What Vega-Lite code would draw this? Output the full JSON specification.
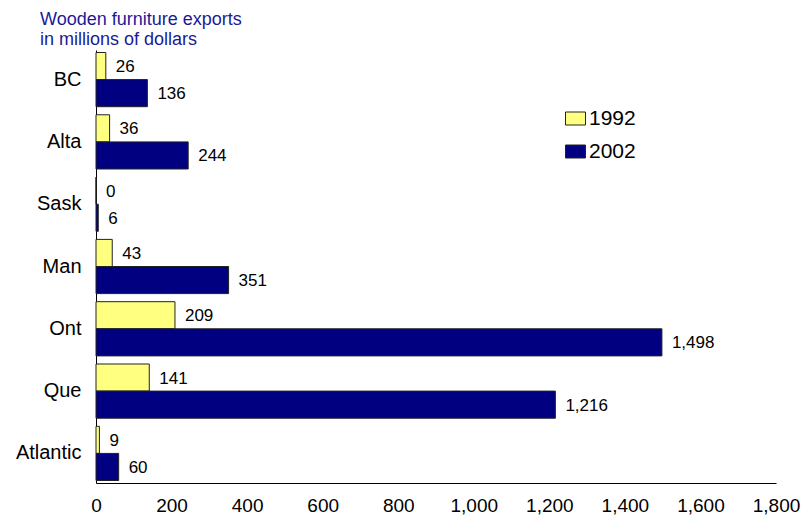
{
  "$schema": "https://vega.github.io/schema/vega-lite/v6.json",
  "width": 680,
  "height": 433,
  "autosize": {"type": "none"},
  "padding": {"left": 96, "top": 50, "right": 26, "bottom": 32},
  "background": "white",
  "config": {"view": {"stroke": null}, "font": "Liberation Sans"},
  "title": {
    "text": ["Wooden furniture exports", "in millions of dollars"],
    "anchor": "start",
    "frame": "group",
    "dx": -56,
    "offset": 1,
    "fontSize": 18,
    "fontWeight": "normal",
    "lineHeight": 20,
    "color": "#1a1a96",
    "font": "Liberation Sans"
  },
  "data": {
    "values": [
      {"region": "BC", "year": "1992", "value": 26},
      {"region": "BC", "year": "2002", "value": 136},
      {"region": "Alta", "year": "1992", "value": 36},
      {"region": "Alta", "year": "2002", "value": 244},
      {"region": "Sask", "year": "1992", "value": 0},
      {"region": "Sask", "year": "2002", "value": 6},
      {"region": "Man", "year": "1992", "value": 43},
      {"region": "Man", "year": "2002", "value": 351},
      {"region": "Ont", "year": "1992", "value": 209},
      {"region": "Ont", "year": "2002", "value": 1498},
      {"region": "Que", "year": "1992", "value": 141},
      {"region": "Que", "year": "2002", "value": 1216},
      {"region": "Atlantic", "year": "1992", "value": 9},
      {"region": "Atlantic", "year": "2002", "value": 60}
    ]
  },
  "encoding": {
    "y": {
      "field": "region",
      "type": "nominal",
      "sort": ["BC", "Alta", "Sask", "Man", "Ont", "Que", "Atlantic"],
      "scale": {"paddingInner": 0.13, "paddingOuter": 0.04},
      "axis": {
        "title": null,
        "ticks": false,
        "labelFontSize": 20,
        "labelPadding": 15,
        "labelColor": "black",
        "domainColor": "black",
        "grid": false
      }
    },
    "yOffset": {"field": "year", "type": "nominal", "sort": ["1992", "2002"]}
  },
  "layer": [
    {
      "mark": {"type": "bar", "stroke": "#222222", "strokeWidth": 1},
      "encoding": {
        "x": {
          "field": "value",
          "type": "quantitative",
          "scale": {"domain": [0, 1800], "nice": false},
          "axis": {
            "title": null,
            "values": [0, 200, 400, 600, 800, 1000, 1200, 1400, 1600, 1800],
            "format": ",.0f",
            "ticks": false,
            "grid": false,
            "labelFontSize": 19,
            "labelPadding": 13,
            "labelColor": "black",
            "domainColor": "black",
            "labelFlush": false,
            "labelOverlap": false
          }
        },
        "color": {
          "field": "year",
          "type": "nominal",
          "scale": {"domain": ["1992", "2002"], "range": ["#FFFF80", "#000080"]},
          "legend": {
            "title": null,
            "orient": "none",
            "legendX": 469,
            "legendY": 58,
            "padding": 0,
            "symbolType": "M-1,-0.65L1,-0.65L1,0.65L-1,0.65Z",
            "symbolSize": 400,
            "symbolStrokeColor": "#222222",
            "symbolStrokeWidth": 1,
            "labelFontSize": 21,
            "labelOffset": 3,
            "labelColor": "black",
            "rowPadding": 11
          }
        }
      }
    },
    {
      "mark": {"type": "text", "align": "left", "baseline": "middle", "dx": 10, "dy": 1, "fontSize": 17, "color": "black"},
      "encoding": {
        "x": {"field": "value", "type": "quantitative"},
        "text": {"field": "value", "type": "quantitative", "format": ",.0f"}
      }
    }
  ]
}
